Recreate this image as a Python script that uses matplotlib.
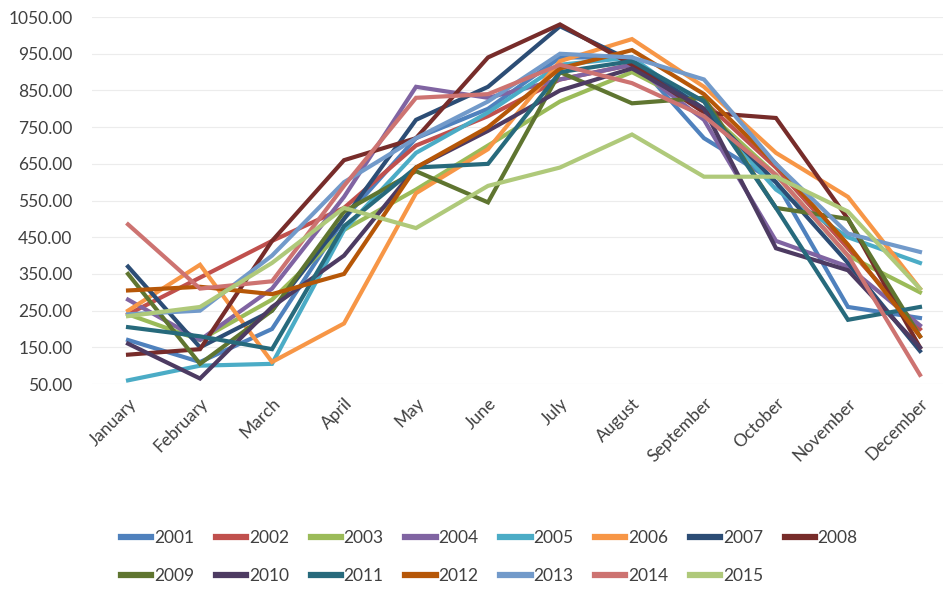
import matplotlib
matplotlib.use("Agg")
import matplotlib.pyplot as plt

months = ["January", "February", "March", "April", "May", "June", "July",
          "August", "September", "October", "November", "December"]

years = ["2001", "2002", "2003", "2004", "2005", "2006", "2007", "2008",
         "2009", "2010", "2011", "2012", "2013", "2014", "2015"]

v2001 = [170, 110, 200, 500, 720, 800, 940, 940, 720, 600, 260, 230]
v2002 = [240, 340, 440, 530, 700, 780, 880, 920, 820, 640, 420, 200]
v2003 = [240, 170, 280, 470, 580, 700, 820, 900, 800, 620, 400, 300]
v2004 = [280, 170, 310, 560, 860, 830, 880, 920, 770, 440, 370, 210]
v2005 = [60, 100, 105, 470, 680, 790, 920, 940, 800, 580, 450, 380]
v2006 = [250, 375, 110, 215, 570, 690, 930, 990, 860, 680, 560, 310]
v2007 = [370, 150, 250, 500, 770, 860, 1025, 930, 800, 600, 380, 140]
v2008 = [130, 145, 440, 660, 720, 940, 1030, 920, 790, 775, 500, 150]
v2009 = [350, 105, 250, 520, 630, 545, 900, 815, 830, 530, 500, 180]
v2010 = [160, 65, 260, 400, 640, 740, 850, 910, 800, 420, 360, 150]
v2011 = [205, 180, 145, 480, 640, 650, 900, 930, 820, 530, 225, 260]
v2012 = [305, 315, 295, 350, 640, 750, 910, 960, 840, 650, 430, 180]
v2013 = [240, 250, 400, 600, 720, 820, 950, 940, 880, 650, 460, 410]
v2014 = [485, 310, 330, 590, 830, 840, 920, 870, 780, 620, 400, 75]
v2015 = [235, 260, 380, 530, 475, 590, 640, 730, 615, 615, 520, 310]

series = [v2001, v2002, v2003, v2004, v2005, v2006, v2007, v2008,
          v2009, v2010, v2011, v2012, v2013, v2014, v2015]

colors = ["#4F81BD", "#C0504D", "#9BBB59", "#8064A2", "#4BACC6", "#F79646",
          "#2C4D75", "#772C2A", "#5F7530", "#4D3B62", "#276A7C", "#B65708",
          "#729ACA", "#CD7371", "#AFC97A"]

yticks = [50, 150, 250, 350, 450, 550, 650, 750, 850, 950, 1050]

plt.rcParams["font.family"] = ["Lato", "DejaVu Sans"]
text_color = "#404040"

fig = plt.figure(figsize=(9.43, 5.89), dpi=100)
ax = fig.add_axes([0.0976, 0.348, 0.9024, 0.623])

x = list(range(len(months)))
handles = []
for name, vals, col in zip(years, series, colors):
    h, = ax.plot(x, vals, color=col, lw=3.0, solid_joinstyle="miter",
                 label=name)
    handles.append(h)

ax.set_xlim(-0.5, 11.32)
ax.set_ylim(50, 1050)
ax.set_yticks(yticks)
ax.set_yticklabels([f"{t:.2f}" for t in yticks])
ax.set_xticks(x)
ax.set_xticklabels(months, rotation=45, ha="right", rotation_mode="anchor")

ax.tick_params(axis="y", length=0, pad=14, labelsize=12.5, colors=text_color)
ax.tick_params(axis="x", length=0, pad=8, labelsize=12.5, colors=text_color)

ax.grid(axis="y", color="#ececec", lw=0.8)
ax.set_axisbelow(True)
for s in ax.spines.values():
    s.set_visible(False)

# legend laid out row by row: 2001-2008 on top, 2009-2015 below
order = []
for i in range(8):
    order.append(i)
    if i + 8 < len(years):
        order.append(i + 8)
leg = fig.legend([handles[i] for i in order], [years[i] for i in order],
                 ncol=8, loc="center", bbox_to_anchor=(0.519, 0.054),
                 frameon=False, fontsize=12.5, handlelength=1.75,
                 handletextpad=0.15, columnspacing=1.25, labelspacing=1.3)
for line in leg.get_lines():
    line.set_linewidth(4.5)
for t in leg.get_texts():
    t.set_color(text_color)

fig.savefig("out.png", dpi=100)
